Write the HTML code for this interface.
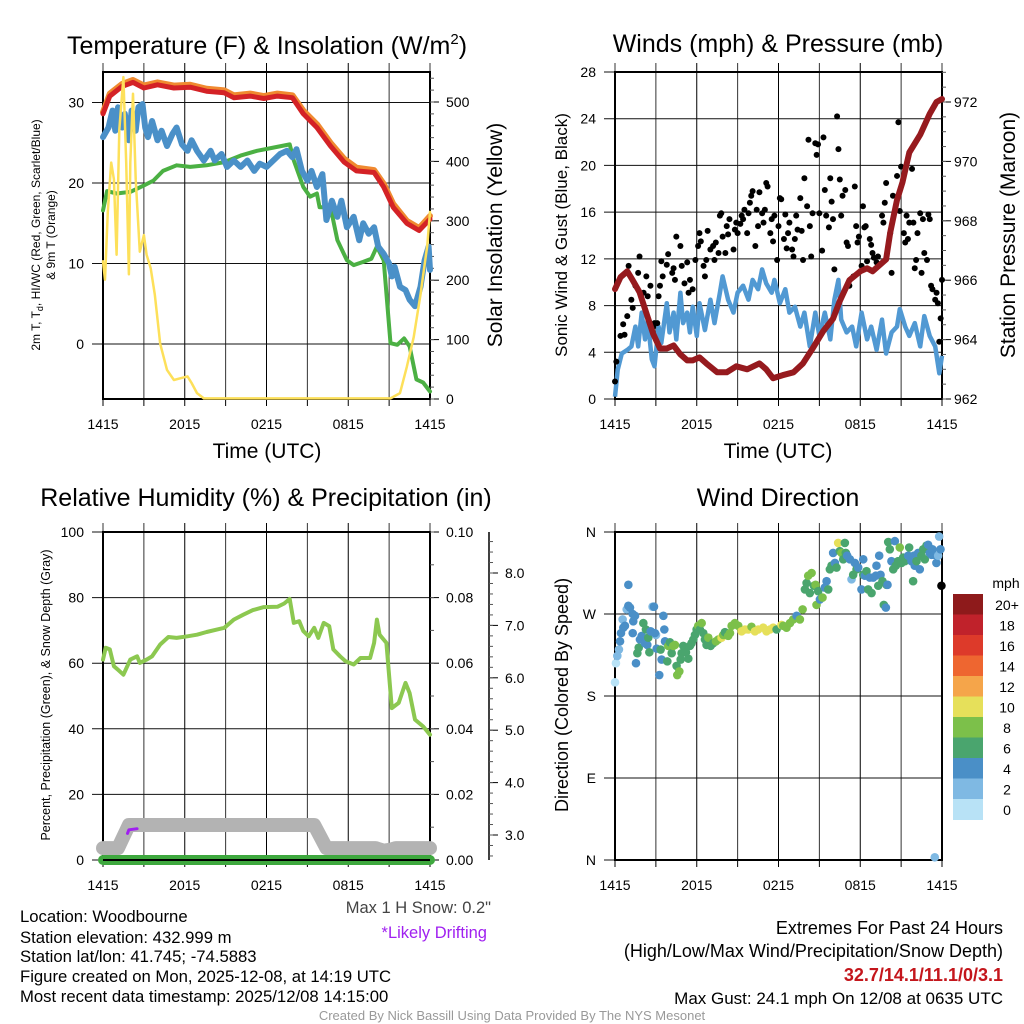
<!DOCTYPE html>
<html><head><meta charset="utf-8">
<style>
html,body{margin:0;padding:0;background:#fff;}
svg{display:block;font-family:"Liberation Sans",Arial,sans-serif;}
</style></head>
<body>
<svg id="chart" width="1024" height="1024" viewBox="0 0 1024 1024" xmlns="http://www.w3.org/2000/svg">
<rect width="1024" height="1024" fill="#fff"/>
<g id="p1"></g>
<g id="p2"></g>
<g id="p3"></g>
<g id="p4"></g>

<text x="267" y="54" font-size="25" text-anchor="middle">Temperature (F) &amp; Insolation (W/m<tspan font-size="15" dy="-10">2</tspan><tspan dy="10">)</tspan></text>
<text x="778" y="52" font-size="25" text-anchor="middle">Winds (mph) &amp; Pressure (mb)</text>
<text x="266" y="506" font-size="25" text-anchor="middle">Relative Humidity (%) &amp; Precipitation (in)</text>
<text x="778" y="506" font-size="25" text-anchor="middle">Wind Direction</text>

<text x="267" y="458" font-size="21" text-anchor="middle">Time (UTC)</text>
<text x="778" y="458" font-size="21" text-anchor="middle">Time (UTC)</text>

<g font-size="12" text-anchor="middle">
<text transform="translate(40,235) rotate(-90)">2m T, T<tspan font-size="9" dy="3">d</tspan><tspan dy="-3">, HI/WC (Red, Green, Scarlet/Blue)</tspan></text>
<text transform="translate(55,235) rotate(-90)">&amp; 9m T (Orange)</text>
</g>
<text transform="translate(502,235) rotate(-90)" font-size="21" text-anchor="middle">Solar Insolation (Yellow)</text>
<text transform="translate(567,235) rotate(-90)" font-size="17" text-anchor="middle">Sonic Wind &amp; Gust (Blue, Black)</text>
<text transform="translate(1015,235) rotate(-90)" font-size="21" text-anchor="middle">Station Pressure (Maroon)</text>
<text transform="translate(50,695) rotate(-90)" font-size="12.5" text-anchor="middle">Percent, Precipitation (Green), &amp; Snow Depth (Gray)</text>
<text transform="translate(568,695) rotate(-90)" font-size="18" text-anchor="middle">Direction (Colored By Speed)</text>

<text x="491" y="913" font-size="16.5" fill="#444" text-anchor="end">Max 1 H Snow: 0.2"</text>
<text x="487" y="938" font-size="16.5" fill="#a020f0" text-anchor="end">*Likely Drifting</text>

<g font-size="16.7">
<text x="20" y="922">Location: Woodbourne</text>
<text x="20" y="943">Station elevation: 432.999 m</text>
<text x="20" y="962">Station lat/lon: 41.745; -74.5883</text>
<text x="20" y="982">Figure created on Mon, 2025-12-08, at 14:19 UTC</text>
<text x="20" y="1002">Most recent data timestamp: 2025/12/08 14:15:00</text>
</g>
<g text-anchor="end">
<text x="1003" y="934" font-size="18">Extremes For Past 24 Hours</text>
<text x="1003" y="957" font-size="18">(High/Low/Max Wind/Precipitation/Snow Depth)</text>
<text x="1003" y="981" font-size="18" fill="#c4161c" font-weight="bold">32.7/14.1/11.1/0/3.1</text>
<text x="1003" y="1004" font-size="17">Max Gust: 24.1 mph On 12/08 at 0635 UTC</text>
</g>
<text x="512" y="1020" font-size="13" fill="#999" text-anchor="middle">Created By Nick Bassill Using Data Provided By The NYS Mesonet</text>
</svg>
<script>
// ---------- data ----------
const xTickLabels = ["1415","2015","0215","0815","1415"];
const redT = [0,0.5,1.4,2.2,3,4,5.2,6.4,7.6,8.9,9.6,10.8,11.8,12.8,13.9,14.7,15.7,16.7,17.7,18.6,19.9,20.6,21.3,22.3,23.2,24];
const redV = [28.6,30.8,32,32.5,31.8,32.2,31.8,31.9,31.4,31.2,30.6,30.8,30.5,30.8,30.6,28.6,26.9,24.6,22.6,21.5,21.3,19.5,17,15,14.1,15.5];
const orangeV = [28.8,31.1,32.3,32.8,32.1,32.5,32.1,32.2,31.7,31.5,30.9,31.1,30.8,31.1,30.9,29,27.3,25,23,21.9,21.6,19.9,17.4,15.3,14.4,15.9];
const greenT = [0,0.3,1,2,3,3.7,4.4,5.4,6.4,7.6,8.9,10.1,11.3,12.5,13.7,14,14.7,15.2,15.7,15.9,16.7,17.2,17.9,18.4,19.1,19.7,20.1,20.6,21.1,21.6,22.1,22.5,23,23.5,24];
const greenV = [16.6,19,18.7,18.9,19.7,20.3,21.5,22.2,22,22.2,22.6,23.4,24,24.4,24.8,22.8,19.5,18.3,18.7,17,17,12.9,10.4,9.8,10.2,10.6,12.1,10.4,0.1,-0.1,0.7,-0.3,-4.4,-4.8,-5.9];
const blueT = [0,0.4,0.7,0.9,1.1,1.4,1.6,1.9,2.1,2.4,2.6,2.9,3.1,3.3,3.6,4,4.3,4.7,5.1,5.4,5.8,6.2,6.5,6.9,7.4,7.9,8.2,8.7,9.1,9.6,10.1,10.6,11.1,11.5,12,12.5,13,13.5,13.9,14.2,14.6,15,15.3,15.7,16.1,16.4,16.8,17.2,17.5,17.9,18.4,18.8,19.1,19.5,19.9,20.2,20.6,21,21.2,21.4,21.8,22.2,22.5,22.9,23.3,23.6,23.9,24];
const blueV = [25.7,26.9,29,26.5,29.4,26.9,28.6,25.3,29,26.5,29.4,29.8,26.9,25.7,27.7,25.3,26.5,24.6,26.1,26.9,24.8,24,25.3,24,22.8,24,22.8,23.6,22,22.8,22,22.8,21.5,22.4,22,22.8,23.6,24,23.2,24.2,21.5,20.3,21.5,19.5,21.1,15.4,17.8,15.8,17.8,14.5,15.8,12.9,15,13.7,14.5,12.1,11.2,10,8.4,9.6,7.1,6.7,5.5,4.7,7.1,10.4,12.1,9.2];
const solarT = [0,0.15,0.35,0.6,0.8,1,1.2,1.5,1.7,1.9,2,2.2,2.4,2.7,3,3.2,3.5,3.8,4.2,4.7,5.2,5.7,6.2,6.5,6.9,7.4,21.1,21.8,22.3,22.8,23.3,23.8,24];
const solarV = [232,201,315,398,370,243,453,542,398,210,398,514,370,248,276,243,220,176,93,49,32,35,38,27,10,1,1,10,54,104,176,259,315];

const pressT = [0,0.4,0.9,1.3,1.8,2.3,2.8,3.3,3.8,4.3,4.8,5.3,5.7,6.2,6.7,7.5,8.2,8.9,9.7,10.6,11.1,11.6,12.3,13.1,13.8,14.5,15.3,16,16.5,17.2,18,18.5,18.9,19.4,19.9,20.2,20.7,21.1,21.6,22.4,23.1,23.6,24];
const pressV = [965.7,966.1,966.3,966,965.6,964.9,964.2,963.7,963.7,963.8,963.5,963.3,963.3,963.4,963.2,962.9,962.9,963.1,963,963.2,963,962.7,962.8,962.9,963.2,963.7,964.3,964.7,965.3,966,966.3,966.4,966.3,966.5,966.7,967.6,968.7,969.3,970.3,970.9,971.6,972,972.1];
const windT = [0,0.2,0.5,0.9,1.2,1.5,1.7,1.96,2.2,2.4,2.7,2.9,3.2,3.4,3.8,4,4.3,4.5,4.8,5,5.3,5.5,5.7,6,6.2,6.6,7,7.3,7.7,7.9,8.3,8.7,9,9.4,9.8,10.1,10.5,10.8,11.1,11.5,11.7,12.1,12.5,12.8,13.2,13.6,13.9,14.3,14.7,15,15.4,15.8,16.1,16.4,16.6,17,17.4,17.7,18.1,18.5,18.8,19.2,19.6,19.9,20.3,20.7,20.9,21.3,21.6,22,22.4,22.7,23.1,23.5,23.8,24];
const windV = [0.2,2.5,3.9,4.2,4.5,6.2,4.5,7.4,5.1,6.8,3.4,2.8,6.2,4.8,8.2,5.7,7.4,5.1,9.1,6.5,7.4,5.7,7.9,5.4,8.2,5.9,8.5,6.5,9.1,10.5,8.5,7.4,9.1,9.7,8.5,10.2,9.4,11.1,9.9,9.1,10.2,8.2,9.4,7.4,7.9,6.2,7.4,4.5,7.4,5.4,7.4,5.1,8.5,10.2,6.8,5.7,6.2,4.5,7.4,5.1,6.2,4.2,6.8,3.9,5.7,6.2,7.7,6.2,5.4,6.5,4.5,7.1,5.4,4.5,2.2,3.7];
const gustT = [0,0.1,0.4,0.7,0.6,0.9,1,1.2,1.3,1.5,1.7,1.8,2.1,2.3,2.4,2.6,2.8,2.9,3.1,3.2,3.3,3.4,3.5,3.8,3.9,4.2,4.3,4.4,4.5,4.8,4.9,5.1,5.3,5.4,5.5,5.7,5.9,6.1,6.2,6.3,6.5,6.6,6.7,6.8,7,7.2,7.3,7.4,7.6,7.7,7.8,7.9,8.1,8.2,8.3,8.4,8.7,8.8,8.9,9,9.2,9.3,9.4,9.5,9.7,9.8,9.9,10,10.1,10.3,10.4,10.5,10.6,10.8,10.9,11,11.1,11.2,11.4,11.5,11.6,11.7,11.9,12,12.1,12.2,12.4,12.5,12.6,12.7,12.8,13,13.1,13.2,13.3,13.4,13.6,13.7,13.8,13.9,14.1,14.2,14.3,14.4,14.5,14.7,14.8,14.9,15,15.2,15.3,15.4,15.5,15.7,15.8,15.9,16,16.1,16.3,16.4,16.5,16.6,16.7,16.9,17,17.1,17.2,17.5,17.6,17.7,17.8,17.9,18.1,18.2,18.3,18.4,18.5,18.7,18.8,18.9,19,19.2,19.3,19.6,19.7,19.8,19.9,20.2,20.3,20.4,20.7,20.8,20.9,21,21.2,21.3,21.4,21.5,21.6,21.8,21.9,22,22.1,22.2,22.4,22.5,22.6,22.7,22.9,23,23.1,23.2,23.3,23.5,23.6,23.7,23.8,23.9,24];
const gustV = [1.5,3.2,5.4,5.5,6.4,7.1,11.4,8.5,7.8,9.7,10.8,12.2,9.1,10.5,8.8,9.7,6.2,6.5,6.5,8.8,9.7,11.8,10.5,11.5,12.4,10.8,11.2,10.2,13.9,13.1,11.4,9.9,11.7,9.1,10.2,9.4,11.9,13.1,14.2,13.5,11.4,10.5,11.9,14.4,12.8,13.1,11.9,13.4,12.5,15.7,15.9,13.9,12.5,14.8,14.1,15.4,12.8,14.5,15.1,14.2,15,15.7,15.4,16.2,14.2,15.9,16.8,17.4,17.8,13.1,16.2,14.8,17.7,15.9,15.1,16.2,18.5,18.2,14.2,15.4,13.5,15.7,11.9,14.8,17.2,17.1,13.7,15.8,12.9,14.2,15.1,12.8,12.2,13.7,15.7,14.5,17.2,14.4,11.9,18.9,16.5,22.2,14.8,12.2,15.9,21.9,20.9,21.8,15.9,12.7,22.4,17.9,15.7,14.7,18.9,16.9,15.4,11.1,24.2,21.4,18.8,15.7,17.4,17.9,13.4,13.1,9.7,10.5,18.2,14.8,13.4,13.9,11.4,16.5,14.7,14.8,11.8,13.7,13.2,12.5,12.1,11.7,12.2,15.7,15.1,16.8,18.5,14.2,10.8,17.4,19.1,23.7,16.1,19.9,14.2,13.4,15.7,13.7,15.1,19.7,15.1,11.2,11.9,14.2,15.9,10.8,15.4,12.5,11.9,15.8,15.4,9.7,9.4,8.5,9.1,8.2,4.9,6.9,10.2];

const rhT = [0,0.2,0.5,0.8,1.1,1.5,2,2.5,2.7,3.2,3.6,4.2,4.8,5.4,6.2,6.9,7.6,8.4,8.9,9.6,10.3,11,11.8,12.8,13.3,13.7,14,14.4,14.7,15.1,15.5,15.8,16.2,16.6,16.9,17.4,17.8,18.4,18.9,19.6,19.9,20.1,20.3,20.8,21.2,21.7,22.2,22.5,22.9,23.5,24];
const rhV = [61.1,64.7,64.2,59.1,58,56.5,61.1,62.1,60.1,61.1,62.1,65.7,68,67.7,68.2,68.7,69.5,70.3,70.8,73.3,74.8,76.2,77.1,77.2,78.2,79.6,72.3,72.8,69.8,68.2,70.8,67.7,72.3,71.3,64.2,62.1,60.6,59.6,61.6,61.6,66.2,73.3,68.7,66.2,46.3,47.9,54,50.9,42.8,40.7,38.2];
const snowT = [0,1.1,1.9,15.5,16.4,19.5,20,20.6,21.1,21.5,24];
const snowV = [2.75,2.75,3.19,3.19,2.75,2.75,2.75,2.7,2.72,2.75,2.75];
const driftT = [1.8,1.9,2.5];
const driftV = [3.03,3.1,3.12];
const precipT = [0,24];
const precipV = [0,0];

const dirT = [0,0.07,0.17,0.29,0.37,0.44,0.61,0.56,0.73,0.98,0.86,0.98,1.1,1.3,1.34,1.47,1.3,1.54,1.64,1.74,1.83,1.96,2.08,2.2,2.27,2.37,2.44,2.52,2.62,2.76,2.86,3.01,2.93,3.06,3.25,3.42,3.35,3.55,3.62,3.67,3.84,3.91,4.03,4.16,4.28,4.4,4.52,4.57,4.72,4.82,4.89,5.01,5.21,5.38,5.5,5.62,5.75,5.87,5.99,6.11,6.23,6.36,6.48,6.6,6.72,6.85,7.02,7.21,7.41,7.58,7.82,7.95,8.07,8.31,8.44,8.56,8.8,9.05,9.29,9.54,9.78,10.02,10.27,10.51,10.88,11.12,11.37,11.61,11.86,12.22,12.35,12.59,12.84,13.08,13.33,13.57,13.77,13.94,14.06,14.18,14.3,14.43,14.6,14.72,14.79,14.91,15.04,15.23,15.4,15.53,15.65,15.77,15.89,16.01,16.14,16.26,16.38,16.5,16.63,16.75,16.87,16.94,17.04,17.24,17.36,17.48,17.6,17.73,17.85,18.09,18.22,18.22,18.34,18.46,18.58,18.7,18.83,18.95,19.14,19.19,19.32,19.39,19.49,19.63,19.73,19.88,19.93,20,20.05,20.17,20.29,20.42,20.54,20.61,20.78,20.9,21.03,21.15,21.27,21.52,21.59,21.76,21.88,21.93,22,22.13,22.25,22.37,22.49,22.62,22.74,22.86,22.98,23.1,23.23,23.3,23.4,23.47,23.59,23.72,23.79,23.89,23.96];
const dirD = [195,216,224,231,240,249,255,264,257,302,275,279,277,270,262,268,249,216,227,233,242,246,260,238,253,236,244,228,251,278,278,247,249,232,203,220,231,268,253,240,218,235,239,227,235,236,213,203,207,220,227,235,228,221,235,238,242,247,253,257,253,260,249,242,236,244,235,238,240,242,244,247,250,246,249,257,260,257,251,253,253,256,251,253,255,251,253,255,253,258,257,255,260,264,268,264,275,297,304,312,293,315,301,302,280,295,286,288,299,306,297,319,323,337,326,321,348,339,337,330,348,337,334,330,308,313,326,319,321,297,330,313,312,317,297,310,293,310,312,323,301,334,313,306,280,277,302,302,349,341,328,319,350,323,328,343,326,332,328,334,343,328,306,334,323,328,337,319,334,341,330,345,346,337,335,341,335,3,326,334,355,341,301];
const dirS = [1,1.5,2.5,3,4.5,4.5,4.5,3,4.5,4.5,2.5,4.5,4.5,4.5,4.5,4.5,4.5,4.5,7,7,4.5,5,7,4.5,7,4.5,7,7,4.5,3,4.5,3,4.5,4.5,4.5,4.5,7,4.5,4.5,4.5,7,8,7,7,8,8,7,8,8,7,7,7,7,7,7,7,7,7,7,8,7,8,7,7,7,8,7,7,8,8,10,8,7,8,8,8,8,8,10,10,10,9,10,10,10,10,10,10,7,10,8,8,8,8,4.5,8,8,7,7,8,7,8,7,8,8,7,4.5,8,4.5,4.5,7,7,7,4.5,4.5,7,10,7,8,7,7,7,4.5,4.5,2.5,7,4.5,7,4.5,4.5,4.5,7,4.5,7,7,4.5,7,4.5,4.5,4.5,7,4.5,4.5,7,7,4.5,7,4.5,7,7,4.5,7,4.5,7,7,8,7,7,7,4.5,7,4.5,7,4.5,4.5,7,4.5,4.5,7,7,7,7,4.5,4.5,4.5,4.5,4.5,3,4.5,3,3,4.5];
const speedLabels = ["20+","18","16","14","12","10","8","6","4","2","0"];
const speedColors = ["#8e1a1b","#c0222b","#dd3a2a","#ee6630","#f5a54a","#e6e05a","#7cc04a","#4aa56e","#4a8fc7","#7fb9e3","#b8e2f6"];

// ---------- helpers ----------
const NS="http://www.w3.org/2000/svg";
function mk(tag,attrs,parent){const e=document.createElementNS(NS,tag);for(const k in attrs)e.setAttribute(k,attrs[k]);parent.appendChild(e);return e;}
function lin(d0,d1,r0,r1){return v=>r0+(v-d0)*(r1-r0)/(d1-d0);}
function pathD(ts,vs,sx,sy){return ts.map((t,i)=>(i?"L":"M")+sx(t).toFixed(1)+","+sy(vs[i]).toFixed(1)).join(" ");}

function frame(g,x0,x1,y0,y1,yTicks,sy,labelFmt){
  for(let h=0;h<=24;h+=3){
    const x=x0+(x1-x0)*h/24;
    const l=mk('line',{x1:x,x2:x,y1:y0-9,y2:y1,stroke:(h%6==0&&h>0&&h<24)?'#000':'#333','stroke-width':1},g);
    
    
    const tk=mk('line',{x1:x,x2:x,y1:y1,y2:y1+7,stroke:'#000','stroke-width':1},g);
    
    
  }
  xTickLabels.forEach((lab,i)=>{
    const t=mk('text',{x:x0+(x1-x0)*i/4,y:y1+30,'font-size':14,'text-anchor':'middle'},g);
    t.textContent=lab;
    
    
  });
  yTicks.forEach(v=>{
    const y=sy(v);
    const l=mk('line',{x1:x0-11,x2:x1,y1:y,y2:y,stroke:'#111','stroke-width':1},g);
    
    
    const t=mk('text',{x:x0-19,y:y+5,'font-size':14,'text-anchor':'end'},g);
    t.textContent=labelFmt(v);
    
    
  });
  const b=mk('rect',{x:x0,y:y0,width:x1-x0,height:y1-y0,fill:'none',stroke:'#000','stroke-width':2},g);
  
  
}
function rightAxis(g,x,ticks,sy,fmt,minorStep,lo,hi,offset){
  ticks.forEach(v=>{
    const y=sy(v);
    const l=mk('line',{x1:x,x2:x+9,y1:y,y2:y,stroke:'#000'},g);
    
    
    const t=mk('text',{x:x+(offset||16),y:y+5,'font-size':14},g);
    t.textContent=fmt(v);
    
    
  });
  for(let v=lo;v<=hi+1e-9;v+=minorStep){
    const y=sy(v);
    const l=mk('line',{x1:x,x2:x+4,y1:y,y2:y,stroke:'#555'},g);
    
    
  }
}

// ---------- panel 1 ----------
(function(){
  const g=document.getElementById('p1');
  const x0=103,x1=430,y0=72,y1=399;
  const sx=lin(0,24,x0,x1);
  const sy=lin(0,10,344,263.5);
  const ss=lin(0,500,399,102);
  frame(g,x0,x1,y0,y1,[0,10,20,30],sy,v=>String(v));
  rightAxis(g,x1,[0,100,200,300,400,500],ss,v=>String(v),20,0,540,16);
  const draw=(ts,vs,sc,col,w,name)=>{const p=mk('path',{d:pathD(ts,vs,sx,sc),fill:'none',stroke:col,'stroke-width':w,'stroke-linejoin':'round','stroke-linecap':'round'},g);
    
    };
  draw(redT,orangeV,sy,'#f08a30',6,'9m-temp-line');
  draw(redT,redV,sy,'#d42226',5,'2m-temp-line');
  draw(greenT,greenV,sy,'#4bb043',4,'heat-index-windchill-line');
  draw(blueT,blueV,sy,'#4a90c8',6,'dewpoint-line');
  draw(solarT,solarV,ss,'#fde05a',2.5,'solar-insolation-line');
})();

// ---------- panel 2 ----------
(function(){
  const g=document.getElementById('p2');
  const x0=615,x1=942,y0=72,y1=399;
  const sx=lin(0,24,x0,x1);
  const sy=lin(0,28,y1,y0);
  const sp=lin(962,972,399,102);
  frame(g,x0,x1,y0,y1,[0,4,8,12,16,20,24,28],sy,v=>String(v));
  rightAxis(g,x1,[962,964,966,968,970,972],sp,v=>String(v),0.5,962,973,12);
  const bp=mk('path',{d:pathD(windT,windV,sx,sy),fill:'none',stroke:'#5199d3','stroke-width':4.5,'stroke-linejoin':'round'},g);
  
  
  gustT.forEach((t,i)=>{
    const c=mk('circle',{cx:sx(t),cy:sy(gustV[i]),r:3,fill:'#000'},g);
    
    
  });
  const pp=mk('path',{d:pathD(pressT,pressV,sx,sp),fill:'none',stroke:'#961a1e','stroke-width':6,'stroke-linejoin':'round','stroke-linecap':'round'},g);
  
  
})();

// ---------- panel 3 ----------
(function(){
  const g=document.getElementById('p3');
  const x0=103,x1=430,y0=532,y1=860;
  const sx=lin(0,24,x0,x1);
  const sy=lin(0,100,y1,y0);
  const sr=lin(0,0.1,y1,y0);
  const sn=lin(3,8,835,573);
  frame(g,x0,x1,y0,y1,[0,20,40,60,80,100],sy,v=>String(v));
  rightAxis(g,x1,[0,0.02,0.04,0.06,0.08,0.1],sr,v=>v.toFixed(2),0.01,0,0.1,16);
  const ax=mk('line',{x1:489,x2:489,y1:532,y2:860,stroke:'#000','stroke-width':1.5},g);
  
  
  rightAxis(g,489,[3,4,5,6,7,8],sn,v=>v.toFixed(1),0.2,2.6,8.6,16);
  const gp=mk('path',{d:pathD(snowT,snowV,sx,sn),fill:'none',stroke:'#b3b3b3','stroke-width':14,'stroke-linejoin':'round','stroke-linecap':'round'},g);
  
  
  const dp=mk('path',{d:pathD(driftT,driftV,sx,sn),fill:'none',stroke:'#a020f0','stroke-width':3,'stroke-linejoin':'round','stroke-linecap':'round'},g);
  
  
  const pr=mk('path',{d:pathD(precipT,precipV,sx,sr),fill:'none',stroke:'#3ea83e','stroke-width':10,'stroke-linecap':'round'},g);
  
  
  const bl=mk('line',{x1:x0,x2:x1,y1:y1,y2:y1,stroke:'#000','stroke-width':2},g);
  
  
  const rh=mk('path',{d:pathD(rhT,rhV,sx,sy),fill:'none',stroke:'#8cc850','stroke-width':4,'stroke-linejoin':'round','stroke-linecap':'round'},g);
  
  
})();

// ---------- panel 4 ----------
(function(){
  const g=document.getElementById('p4');
  const x0=615,x1=942,y0=532,y1=860;
  const sx=lin(0,24,x0,x1);
  const sy=lin(0,360,y1,y0);
  const dirLabels=["N","E","S","W","N"];
  frame(g,x0,x1,y0,y1,[0,90,180,270,360],sy,v=>dirLabels[v/90]);
  const colorFor=s=>{let k=Math.min(10,Math.floor(s/2));return speedColors[10-k];};
  dirT.forEach((t,i)=>{
    const c=mk('circle',{cx:sx(t),cy:sy(dirD[i]),r:4.3,fill:colorFor(dirS[i])},g);
    
    
  });
  const lt=mk('text',{x:1006,y:588,'font-size':14,'text-anchor':'middle'},g);
  lt.textContent='mph';
  
  
  speedLabels.forEach((lab,i)=>{
    const y=594+i*20.5;
    const r=mk('rect',{x:953,y:y,width:30,height:21,fill:speedColors[i]},g);
    
    
    const t=mk('text',{x:1007,y:y+16,'font-size':14,'text-anchor':'middle'},g);
    t.textContent=lab;
    
    
  });
})();
</script>
</body></html>
